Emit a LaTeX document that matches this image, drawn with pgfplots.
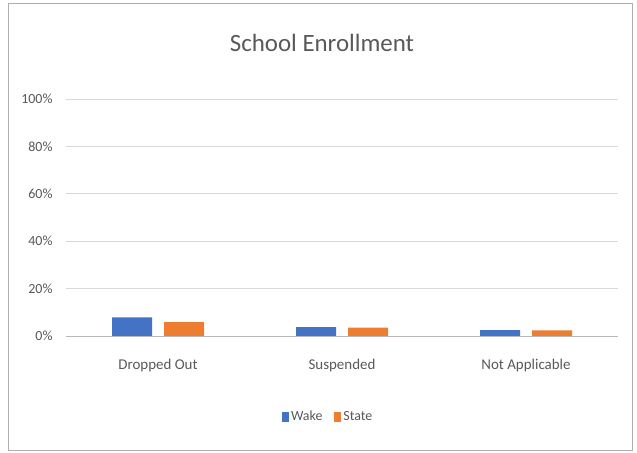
\documentclass[border=0pt]{standalone}
\usepackage{fontspec}
\setmainfont{Carlito}
\usepackage{pgfplots}
\pgfplotsset{compat=1.18}
\definecolor{wake}{HTML}{4472C4}
\definecolor{state}{HTML}{ED7D31}
\definecolor{txt}{HTML}{595959}
\definecolor{grid}{HTML}{D9D9D9}
\begin{document}
\begin{tikzpicture}[x=1bp,y=1bp]
\fill[white] (0,0) rectangle (637,453);
\draw[grid!80!black, line width=0.8bp] (8,3) rectangle (632,450);
\begin{axis}[
  at={(66bp,117bp)}, anchor=south west,
  width=552bp, height=237bp, scale only axis,
  xmin=-0.5, xmax=2.5, ymin=0, ymax=100,
  ytick={0,20,40,60,80,100},
  yticklabel={\pgfmathprintnumber{\tick}\%},
  /pgf/number format/assume math mode=true,
  xtick={0,1,2},
  xticklabels={Dropped Out,Suspended,Not Applicable},
  ymajorgrids, xmajorgrids=false,
  y grid style={grid, line width=0.8bp},
  axis x line*=bottom, axis y line*=left,
  y axis line style={draw=none},
  x axis line style={draw=grid!85!black, line width=0.8bp, -},
  major tick length=0pt,
  ticklabel style={font=\fontsize{14}{16}\selectfont, text=txt},
  yticklabel style={xshift=-10bp},
  xticklabel style={yshift=-20bp, font=\fontsize{15}{17}\selectfont},
  ybar, bar width=40bp,
  title={School Enrollment},
  title style={font=\fontsize{25}{29}\selectfont, text=txt, yshift=38bp, xshift=-20bp},
  legend style={at={(0.475,-0.3)}, anchor=north, draw=none, legend columns=2,
    font=\fontsize{14}{16}\selectfont, text=txt,
    /tikz/every even column/.append style={column sep=10bp}},
  legend image code/.code={\fill[#1] (0bp,-5bp) rectangle (7bp,5bp);},
]
\addplot[fill=wake, draw=none, bar shift=-26bp] coordinates {(0,7.9) (1,3.7) (2,2.5)};
\addplot[fill=state, draw=none, bar shift=26bp] coordinates {(0,5.8) (1,3.5) (2,2.4)};
\legend{Wake,State}
\end{axis}
\end{tikzpicture}
\end{document}
